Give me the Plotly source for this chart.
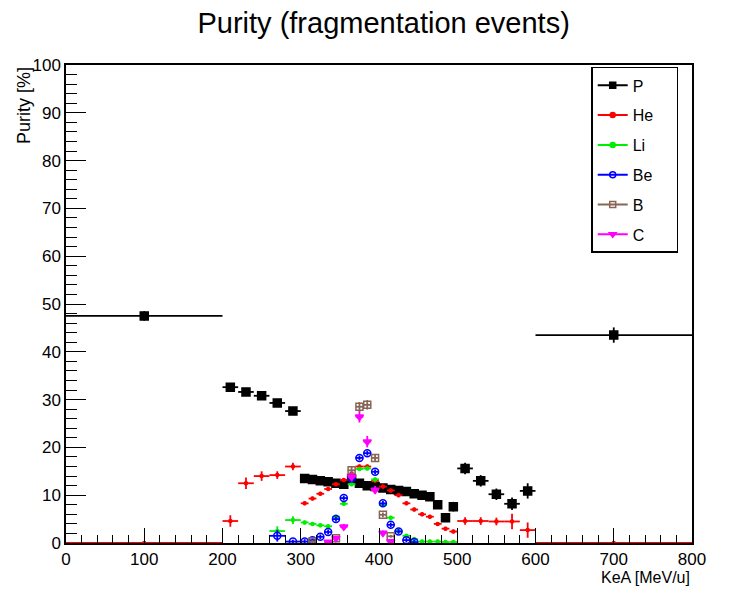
import plotly.graph_objects as go

# ---------------- data ----------------
mid_x = [305, 315, 325, 335, 345, 355, 365, 375, 385, 395,
         405, 415, 425, 435, 445, 455, 465, 475, 485, 495]

p_x = [100, 210, 230, 250, 270, 290] + mid_x + [510, 530, 550, 570, 590, 700]
p_xerr = [100, 10, 10, 10, 10, 10] + [5] * 20 + [10, 10, 10, 10, 10, 100]
p_y = [47.5, 32.6, 31.6, 30.8, 29.3, 27.6,
       13.5, 13.3, 13.0, 12.8, 12.5, 12.3, 13.4, 12.5, 12.0, 11.8,
       11.5, 11.2, 11.0, 10.8, 10.3, 10.0, 9.7, 8.0, 5.3, 7.6,
       15.6, 13.0, 10.2, 8.2, 10.9, 43.5]
p_yerr = [1.0, 0.8, 0.8, 0.7, 0.7, 0.8,
          0.6, 0.6, 0.6, 0.6, 0.6, 0.6, 0.6, 0.6, 0.6, 0.6,
          0.6, 0.6, 0.6, 0.6, 0.7, 0.7, 0.8, 0.8, 0.9, 1.0,
          1.2, 1.2, 1.2, 1.3, 1.6, 1.6]

he_x = [100, 210, 230, 250, 270, 290] + mid_x + [510, 530, 550, 570, 590, 700]
he_xerr = [100, 10, 10, 10, 10, 10] + [5] * 20 + [10, 10, 10, 10, 10, 100]
he_y = [0.0, 4.6, 12.5, 14.0, 14.2, 16.0,
        8.3, 9.3, 10.3, 11.3, 12.3, 13.2, 14.5, 16.0, 16.0, 13.0,
        11.8, 11.0, 10.0, 8.3, 7.0, 6.0, 5.5, 4.0, 3.0, 2.4,
        4.6, 4.6, 4.5, 4.5, 2.7, 0.0]
he_yerr = [0, 1.2, 1.2, 1.0, 0.8, 0.8,
           0.4, 0.4, 0.4, 0.4, 0.4, 0.4, 0.4, 0.4, 0.4, 0.4,
           0.4, 0.4, 0.4, 0.4, 0.4, 0.4, 0.4, 0.4, 0.4, 0.4,
           0.8, 0.8, 0.8, 1.6, 1.6, 0]

li_x = [270, 290] + mid_x
li_xerr = [10, 10] + [5] * 20
li_y = [2.5, 4.8,
        4.3, 4.0, 3.7, 3.5, 5.5, 8.2, 12.3, 15.5, 15.6, 13.3,
        8.0, 5.3, 2.5, 1.5, 0.8, 0.3, 0.3, 0.3, 0.2, 0.2]
li_yerr = [1.0, 0.8] + [0.4] * 20

be_x = [270, 290] + mid_x[:15]
be_xerr = [10, 10] + [5] * 15
be_y = [1.5, 0.3,
        0.3, 0.6, 1.3, 2.3, 5.0, 9.4, 13.5, 17.8, 18.8, 14.9,
        8.3, 3.8, 2.4, 0.6, 0.2]
be_yerr = [1.2, 0.4] + [0.5] * 15

b_x = [315, 345, 365, 375, 385, 395, 405, 415]
b_xerr = [5] * 8
b_y = [0.3, 1.0, 15.2, 28.5, 28.9, 17.8, 5.9, 1.4]
b_yerr = [0.3, 0.4, 0.8, 1.0, 1.0, 0.8, 0.5, 0.3]

c_x = [335, 345, 355, 365, 375, 385, 395, 405, 415]
c_xerr = [5] * 9
c_y = [0.2, 1.0, 3.4, 13.8, 26.4, 21.2, 11.1, 2.1, 0.3]
c_yerr = [0.2, 0.4, 0.6, 0.9, 1.2, 1.2, 0.8, 0.5, 0.3]

x_ticks = [0, 100, 200, 300, 400, 500, 600, 700, 800]
y_ticks = [0, 10, 20, 30, 40, 50, 60, 70, 80, 90, 100]

BROWN = "#876656"
series = [
    ("P", p_x, p_xerr, p_y, p_yerr, "black", "square", 8),
    ("He", he_x, he_xerr, he_y, he_yerr, "red", "circle", 3),
    ("Li", li_x, li_xerr, li_y, li_yerr, "#00ee00", "circle", 3),
    ("Be", be_x, be_xerr, be_y, be_yerr, "blue", "circle-open", 7),
    ("B", b_x, b_xerr, b_y, b_yerr, BROWN, "square-open", 7),
    ("C", c_x, c_xerr, c_y, c_yerr, "magenta", "triangle-down", 7),
]

fig = go.Figure()
for name, x, xe, y, ye, col, sym, size in series:
    fig.add_trace(go.Scatter(
        x=x, y=y, mode="markers", name=name, showlegend=False,
        marker=dict(color=col, symbol=sym, size=size,
                    line=dict(color=col, width=1.5)),
        error_x=dict(type="data", array=xe, color=col, thickness=1.8, width=0),
        error_y=dict(type="data", array=ye, color=col, thickness=1.8, width=0),
    ))
# legend entries (line + marker, like the ROOT legend)
PAD = "\u00a0" * 4
for i, (name, x, xe, y, ye, col, sym, size) in enumerate(series):
    fig.add_trace(go.Scatter(
        x=[None], y=[None], mode="lines+markers", name=name + PAD,
        legendgroup=name,
        line=dict(color=col, width=2),
        marker=dict(color=col, symbol=sym, size=6 if size > 3 else 5,
                    line=dict(color=col, width=1.5)),
    ))

FONT = "Liberation Sans, Arial, sans-serif"
# page body has an 8px margin: figure is offset by (8, 8)
fig.update_layout(
    width=721, height=582,
    margin=dict(l=58, r=37, t=57, b=47),
    paper_bgcolor="white", plot_bgcolor="white",
    font=dict(family=FONT, color="black", size=17),
    showlegend=True,
    title=dict(text="Purity (fragmentation events)", x=0.521, xanchor="center",
               y=0.975, yanchor="middle", font=dict(size=29, family=FONT)),
    legend=dict(x=0.839, y=0.996, xanchor="left", yanchor="top",
                bgcolor="white", bordercolor="black", borderwidth=1.5,
                font=dict(size=16, family=FONT), tracegroupgap=6,
                itemwidth=30),
    xaxis=dict(range=[0, 800], tickvals=x_ticks, ticks="inside", ticklen=15,
               tickwidth=1.2, tickcolor="black", showgrid=False, zeroline=False,
               showline=True, linecolor="black", linewidth=1.5, mirror=True,
               tickfont=dict(size=17), ticklabelstandoff=0,
               minor=dict(dtick=20, ticks="inside", ticklen=8, tickcolor="black",
                          tickwidth=1, showgrid=False)),
    yaxis=dict(range=[0, 100], tickvals=y_ticks, ticks="inside", ticklen=20,
               tickwidth=1.2, tickcolor="black", showgrid=False, zeroline=False,
               showline=True, linecolor="black", linewidth=1.5, mirror=True,
               tickfont=dict(size=17),
               minor=dict(dtick=2, ticks="inside", ticklen=11, tickcolor="black",
                          tickwidth=1, showgrid=False)),
    annotations=[
        dict(text="KeA [MeV/u]", xref="paper", yref="paper", x=1.0, y=-0.073,
             xanchor="right", yanchor="middle", showarrow=False,
             font=dict(size=16, family=FONT)),
        dict(text="Purity [%]", xref="paper", yref="paper", x=-0.068, y=1.0,
             xanchor="center", yanchor="top", textangle=-90, showarrow=False,
             font=dict(size=18, family=FONT)),
    ],
)

fig.write_html("out.html")
